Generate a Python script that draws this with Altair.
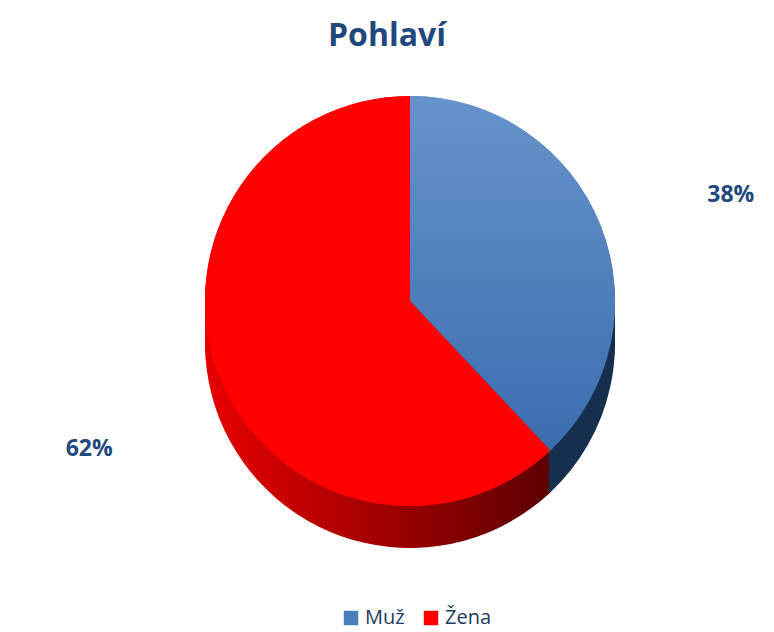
import altair as alt
import pandas as pd

categories = ["Muž", "Žena"]
values = [38, 62]
labels = ["38%", "62%"]

top_colors = ["#4A7EBB", "#FF0000"]

df = pd.DataFrame({"pohlavi": categories, "hodnota": values, "popisek": labels})

CX = 402
CY = 228
R = 205
DEPTH = 42
STEPS = 8

red_side = alt.LinearGradient(
    gradient="linear",
    stops=[alt.GradientStop(color="#E80000", offset=0), alt.GradientStop(color="#5C0000", offset=1)],
    x1=0, x2=1, y1=0, y2=0,
)
blue_top = alt.LinearGradient(
    gradient="linear",
    stops=[alt.GradientStop(color="#6793CB", offset=0), alt.GradientStop(color="#3B6DAE", offset=1)],
    x1=0, x2=0, y1=0, y2=1,
)

is_man = "datum.pohlavi === 'Muž'"

base = alt.Chart(df).encode(
    theta=alt.Theta("hodnota:Q", stack=True),
    order=alt.Order("pohlavi:N", sort="ascending"),
)

def side_layer(dy):
    return base.mark_arc(outerRadius=R, strokeWidth=0).encode(
        fill=alt.condition(is_man, alt.value("#17304F"), alt.value(red_side)),
        x=alt.value(CX),
        y=alt.value(CY + dy),
    )

top_legend = base.mark_arc(outerRadius=R, strokeWidth=0).encode(
    color=alt.Color(
        "pohlavi:N",
        scale=alt.Scale(domain=categories, range=top_colors),
        legend=alt.Legend(
            title=None,
            orient="none",
            direction="horizontal",
            legendX=333,
            legendY=535,
            symbolType="square",
            symbolSize=210,
            symbolStrokeWidth=0,
            labelFontSize=20,
            labelFont="Open Sans",
            labelColor="#1F3A60",
            labelOffset=4,
            columnPadding=16,
        ),
    ),
    x=alt.value(CX),
    y=alt.value(CY),
)

top_fill = base.mark_arc(outerRadius=R, strokeWidth=0).encode(
    fill=alt.condition(is_man, alt.value(blue_top), alt.value("#FF0000")),
    x=alt.value(CX),
    y=alt.value(CY),
)

text = base.mark_text(radius=345, font="Open Sans", fontSize=23, fontWeight="bold", color="#1F497D").encode(
    text="popisek:N",
    x=alt.value(CX),
    y=alt.value(CY + DEPTH / 2),
)

sides = [side_layer(DEPTH * (STEPS - i) / STEPS) for i in range(STEPS)]

chart = (
    alt.layer(*sides, top_legend, top_fill, text)
    .properties(
        width=758,
        height=556,
        padding={"top": 12, "left": 0, "right": 0, "bottom": 0},
        title=alt.Title(
            "Pohlaví",
            font="Open Sans",
            fontSize=32,
            fontWeight="bold",
            color="#1F497D",
            anchor="middle",
            offset=20,
        ),
    )
    .configure_view(stroke=None)
)

chart.save("out.html", embed_options={"renderer": "svg", "actions": False})
